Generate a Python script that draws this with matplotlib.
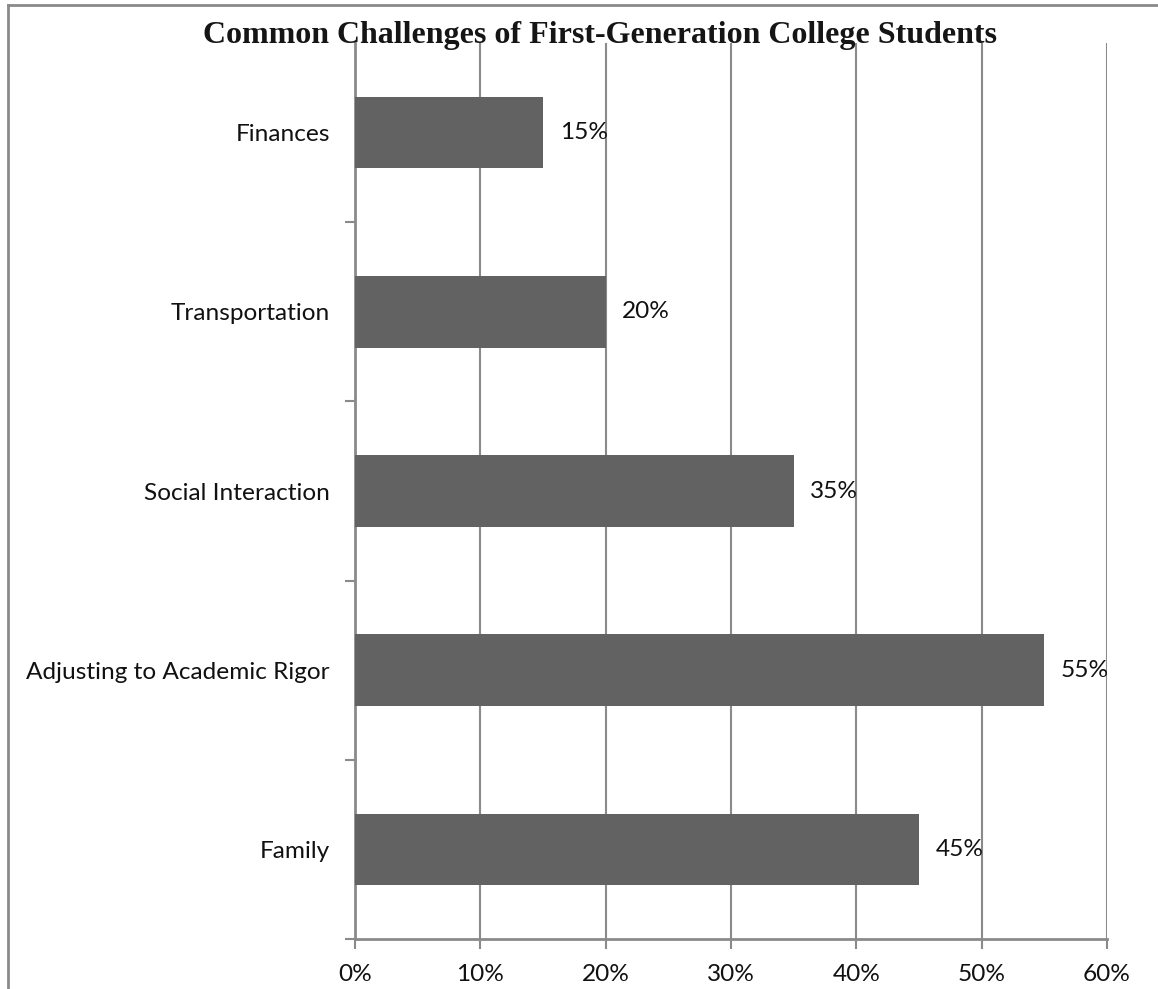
import matplotlib.pyplot as plt
from matplotlib.lines import Line2D
from matplotlib.ticker import FixedLocator, PercentFormatter

# Survey results: share of students naming each challenge
challenges = ['Finances', 'Transportation', 'Social Interaction',
              'Adjusting to Academic Rigor', 'Family']
shares = [15, 20, 35, 55, 45]
x_ticks = [0, 10, 20, 30, 40, 50, 60]

grid_grey = '#8a8a8a'
bar_grey = '#626262'
label_font = 'Lato'
label_size = 17.6

fig = plt.figure(figsize=(11.58, 9.89), dpi=100)
fig.patch.set_facecolor('white')

# chart frame (left and top edges)
fig.add_artist(Line2D([8 / 1158, 8 / 1158], [0, 1 - 5 / 989], transform=fig.transFigure,
                      color=grid_grey, lw=2))
fig.add_artist(Line2D([8 / 1158, 1], [1 - 5 / 989, 1 - 5 / 989], transform=fig.transFigure,
                      color=grid_grey, lw=2))

ax = fig.add_axes([355 / 1158, 1 - 939 / 989, 752 / 1158, 896 / 989])

pos = list(range(len(challenges)))
ax.barh(pos, shares, height=0.4, color=bar_grey, zorder=3)

for p, v in zip(pos, shares):
    ax.annotate(f'{v}%', (v, p), xytext=(12, 0), textcoords='offset points',
                va='center', ha='left', fontsize=label_size, family=label_font, color='#111111')

ax.set_xlim(0, 60)
ax.set_ylim(len(challenges) - 0.5, -0.5)
ax.set_xticks(x_ticks)
ax.xaxis.set_major_formatter(PercentFormatter(decimals=0))
ax.set_yticks(pos)
ax.set_yticklabels(challenges)
ax.yaxis.set_minor_locator(FixedLocator([0.5, 1.5, 2.5, 3.5, 4.5]))

ax.grid(axis='x', color=grid_grey, lw=1.5, zorder=0)
ax.set_axisbelow(True)

for side in ('top', 'right'):
    ax.spines[side].set_visible(False)
for side in ('left', 'bottom'):
    ax.spines[side].set_color(grid_grey)
    ax.spines[side].set_linewidth(2)

ax.tick_params(axis='x', length=7, width=1.5, color=grid_grey, pad=11,
               labelsize=label_size, labelcolor='#111111')
ax.tick_params(axis='y', which='major', length=0, pad=18, labelsize=label_size,
               labelcolor='#111111')
ax.tick_params(axis='y', which='minor', length=7, width=1.5, color=grid_grey)
for lab in ax.get_xticklabels() + ax.get_yticklabels():
    lab.set_family(label_font)

fig.text(600 / 1158, 1 - 35 / 989, 'Common Challenges of First-Generation College Students',
         ha='center', va='center', fontsize=23, fontweight='bold',
         family='Liberation Serif', color='#151515')

fig.savefig('out.png', dpi=100, facecolor='white')
